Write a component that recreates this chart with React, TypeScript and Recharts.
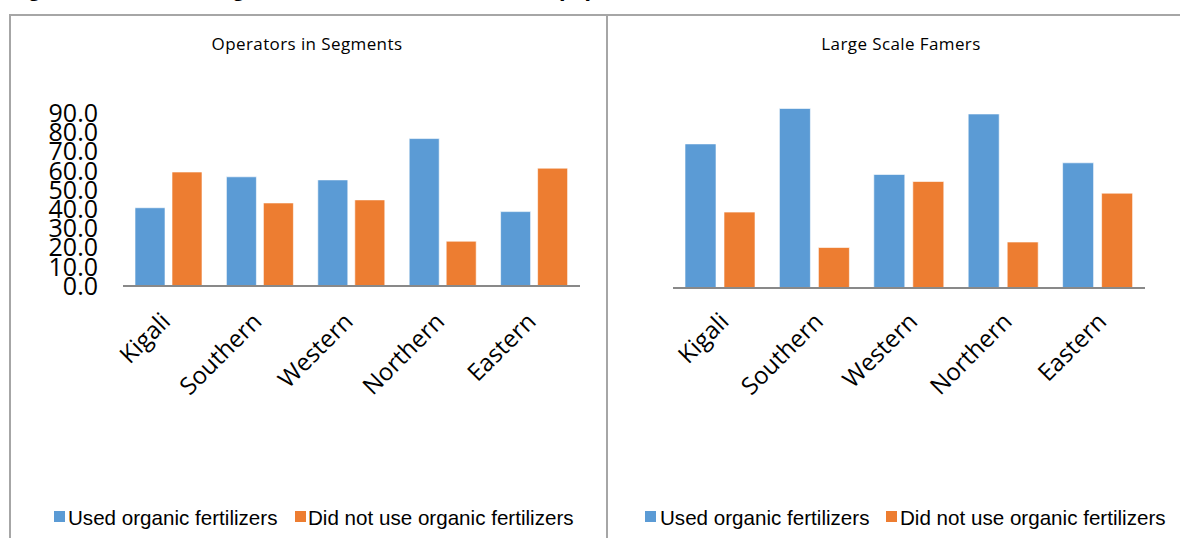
import React from 'react';
import { Bar, BarChart, XAxis, YAxis } from 'recharts';

const regions = ['Kigali', 'Southern', 'Western', 'Northern', 'Eastern'];
const operatorsUsed = [40.7, 56.8, 55.2, 76.7, 38.7];
const operatorsNotUsed = [59.3, 43.2, 44.8, 23.3, 61.3];
const largeUsed = [65.5, 81.6, 51.6, 79.1, 56.9];
const largeNotUsed = [34.5, 18.4, 48.4, 20.9, 43.1];
const yTicks = [0, 10, 20, 30, 40, 50, 60, 70, 80, 90];

const BLUE = '#5B9BD5';
const ORANGE = '#ED7D31';
const AXIS = '#898989';
const FRAME = '#a6a6a6';

const operatorsData = regions.map((r, i) => ({
  region: r,
  used: operatorsUsed[i],
  notUsed: operatorsNotUsed[i],
}));
const largeData = regions.map((r, i) => ({
  region: r,
  used: largeUsed[i],
  notUsed: largeNotUsed[i],
}));

const makeTick = (dx: number, dy: number) => (props: any) => {
  const { x, y, payload } = props;
  const tx = x + dx;
  const ty = y + dy;
  return (
    <text
      x={tx}
      y={ty}
      textAnchor="end"
      transform={`rotate(-45, ${tx}, ${ty})`}
      fontFamily="'Open Sans'"
      fontSize={24}
      fill="#000"
    >
      {payload.value}
    </text>
  );
};

const Legend = ({ sq1, tx1, sq2, tx2 }: { sq1: number; tx1: number; sq2: number; tx2: number }) => {
  const text: React.CSSProperties = {
    position: 'absolute',
    top: 508,
    fontFamily: "'Liberation Sans'",
    fontSize: 20.6,
    lineHeight: '20px',
    whiteSpace: 'nowrap',
    color: '#000',
  };
  const sq: React.CSSProperties = { position: 'absolute', top: 511, width: 11, height: 11 };
  return (
    <>
      <div style={{ ...sq, left: sq1, background: BLUE }} />
      <div style={{ ...text, left: tx1 }}>Used organic fertilizers</div>
      <div style={{ ...sq, left: sq2, background: ORANGE }} />
      <div style={{ ...text, left: tx2 }}>Did not use organic fertilizers</div>
    </>
  );
};

const title: React.CSSProperties = {
  position: 'absolute',
  top: 33,
  width: 300,
  textAlign: 'center',
  fontFamily: "'Open Sans'",
  fontSize: 17,
  letterSpacing: 0.4,
  lineHeight: '22px',
  color: '#000',
};

export default function App() {
  return (
    <div
      style={{
        position: 'fixed',
        left: 0,
        top: 0,
        width: 1180,
        height: 538,
        overflow: 'hidden',
        background: '#fff',
      }}
    >
      {/* heading of the page, mostly cut off above */}
      <svg style={{ position: 'absolute', left: 0, top: 0, display: 'block' }} width={1180} height={14}>
        <text x={6} y={-4} fontFamily="'Liberation Sans'" fontWeight="bold" fontSize={24} fill="#000">
          Figure 30: Use of organic fertilizers in Season A (%)
        </text>
      </svg>

      {/* frames */}
      <div style={{ position: 'absolute', left: 9, top: 14, width: 1171, height: 0, borderTop: `2px solid ${FRAME}` }} />
      <div style={{ position: 'absolute', left: 9, top: 14, width: 0, height: 524, borderLeft: `2px solid ${FRAME}` }} />
      <div style={{ position: 'absolute', left: 606, top: 14, width: 0, height: 524, borderLeft: `2px solid ${FRAME}` }} />

      <div style={{ ...title, left: 157 }}>Operators in Segments</div>
      <div style={{ ...title, left: 751 }}>Large Scale Famers</div>

      <div style={{ position: 'absolute', left: 0, top: 0 }}>
        <BarChart
          width={607}
          height={538}
          data={operatorsData}
          margin={{ top: 113, right: 27, bottom: 172, left: 23 }}
          barSize={30}
          barGap={7}
        >
          <XAxis
            dataKey="region"
            interval={0}
            height={80}
            tickLine={false}
            tickSize={0}
            tickMargin={0}
            axisLine={{ stroke: AXIS, strokeWidth: 2 }}
            tick={makeTick(3, 37)}
          />
          <YAxis
            domain={[0, 90]}
            ticks={yTicks}
            width={100}
            axisLine={false}
            tickLine={false}
            tickSize={0}
            tickMargin={25}
            tickFormatter={(v: number) => v.toFixed(1)}
            tick={{ fontFamily: "'Open Sans'", fontSize: 25, fill: '#000' }}
            interval={0}
          />
          <Bar dataKey="used" fill={BLUE} stroke="#fff" strokeOpacity={0.6} isAnimationActive={false} />
          <Bar dataKey="notUsed" fill={ORANGE} stroke="#fff" strokeOpacity={0.6} isAnimationActive={false} />
        </BarChart>
      </div>

      <div style={{ position: 'absolute', left: 607, top: 0 }}>
        <BarChart
          width={573}
          height={538}
          data={largeData}
          margin={{ top: 90, right: 35, bottom: 170, left: 66 }}
          barSize={31}
          barGap={8}
        >
          <XAxis
            dataKey="region"
            interval={0}
            height={80}
            tickLine={false}
            tickSize={0}
            tickMargin={0}
            axisLine={{ stroke: AXIS, strokeWidth: 2 }}
            tick={makeTick(10, 35)}
          />
          <YAxis domain={[0, 90]} hide width={0} />
          <Bar dataKey="used" fill={BLUE} stroke="#fff" strokeOpacity={0.6} isAnimationActive={false} />
          <Bar dataKey="notUsed" fill={ORANGE} stroke="#fff" strokeOpacity={0.6} isAnimationActive={false} />
        </BarChart>
      </div>

      <Legend sq1={54} tx1={68} sq2={295} tx2={308} />
      <Legend sq1={645} tx1={660} sq2={886} tx2={900} />
    </div>
  );
}
